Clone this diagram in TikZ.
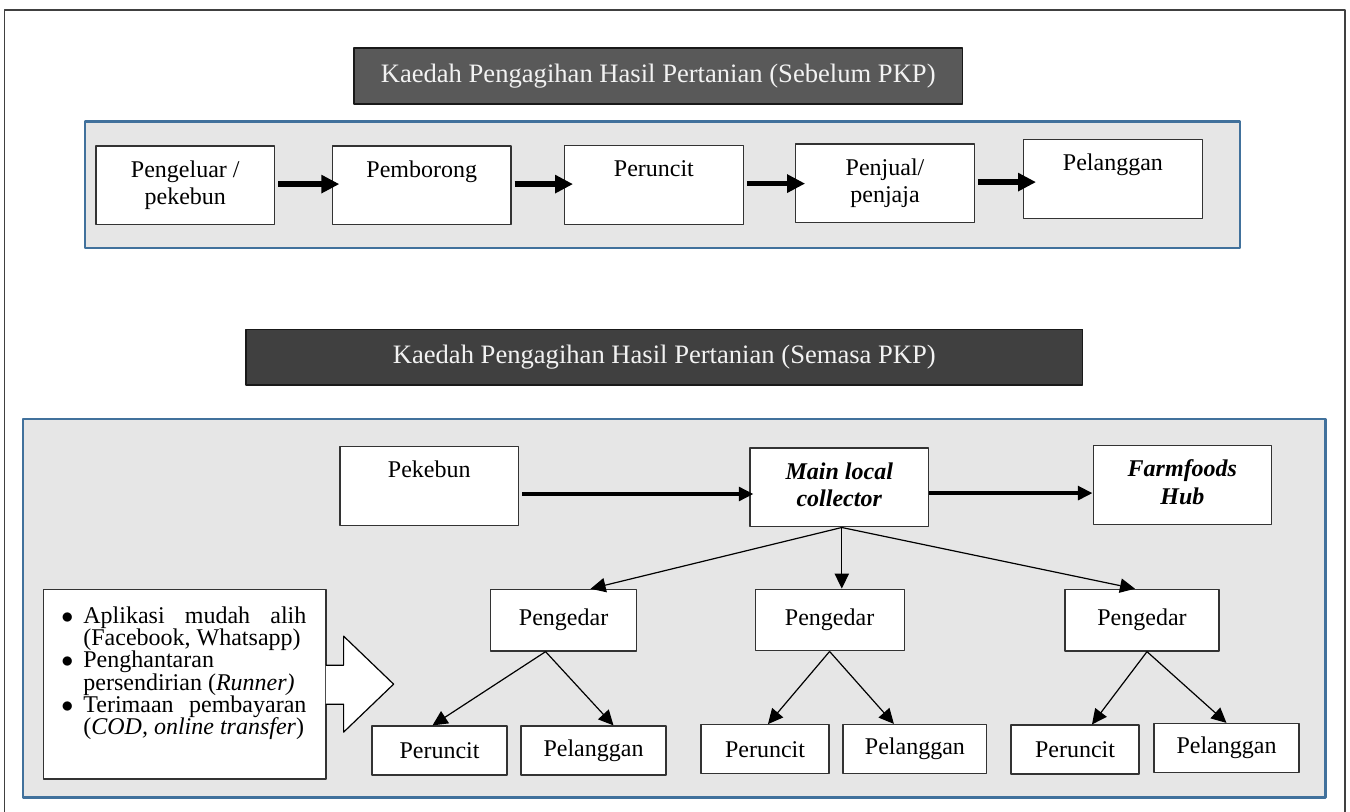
\documentclass[tikz,border=0pt]{standalone}
\usepackage{fontspec}
\setmainfont{Liberation Serif}
\usetikzlibrary{arrows.meta,calc}
\definecolor{bingkai}{RGB}{65,113,156}
\definecolor{latar}{RGB}{230,230,230}
\definecolor{tajukA}{RGB}{89,89,89}
\definecolor{tajukB}{RGB}{64,64,64}
\newcommand{\duabaris}[2]{#1\strut\\#2\strut}
\newcommand{\titik}{\makebox[10pt][l]{\hspace*{-1pt}$\bullet$}}
\begin{document}
\begin{tikzpicture}[line join=round,x=0.5pt,y=-0.5pt]
		\tikzset{every node/.style={font=\fontsize{12}{13.8}\selectfont},
			kotak/.style={draw=black!80,fill=white,line width=0.6pt,align=center,inner sep=0pt,minimum width=89.25pt,minimum height=39.4pt},
			kecil/.style={draw=black!80,fill=white,line width=0.6pt,inner sep=0pt,minimum height=#1},
			tajuk/.style={draw=black!90,line width=0.7pt,text=white!95!black,inner sep=0pt,font=\fontsize{13.3}{15}\selectfont},
			panel/.style={draw=bingkai,fill=latar,line width=1.1pt},
			tebal/.style={line width=2.85pt,-{Triangle[length=9pt,width=8.7pt]}},
			sedang/.style={line width=2.1pt,-{Triangle[length=7.3pt,width=6.8pt]}},
			nipis/.style={line width=0.6pt,-{Triangle[length=7.5pt,width=7.2pt]}}}
		\useasboundingbox (0,0) rectangle (1350,812);
		\clip (0,0) rectangle (1350,812);
		\draw[black!75,line width=0.8pt] (4.5,10) rectangle (1345,830);
		% Sebelum PKP
		\node[tajuk,fill=tajukA,minimum width=304.2pt,minimum height=28pt] (tajuk1) at (658.2,76) {Kaedah Pengagihan Hasil Pertanian (Sebelum PKP)};
		\draw[panel] (85,121.5) rectangle (1240,248);
		\node[kotak] (pengeluar) at (185.25,185.5) {\duabaris{Pengeluar /}{pekebun}};
		\node[kotak] (pemborong) at (421.8,185.5) {\duabaris{Pemborong}{}};
		\node[kotak] (peruncit) at (653.9,185) {\duabaris{Peruncit}{}};
		\node[kotak] (penjual) at (885,183.5) {\duabaris{Penjual/}{penjaja}};
		\node[kotak] (pelanggan) at (1112.9,179) {\duabaris{Pelanggan}{}};
		\foreach \a/\b/\s in {pengeluar/pemborong/-3.7pt,pemborong/peruncit/-4.5pt,peruncit/penjual/-5pt,penjual/pelanggan/-6.5pt}
		\draw[tebal,shorten <=1.5pt,shorten >=\s] ([yshift=0.7pt]\a.east) -- ([yshift=0.7pt]\a.east -| \b.west);
		% Semasa PKP
		\node[tajuk,fill=tajukB,minimum width=418.3pt,minimum height=27.85pt] (tajuk2) at (664.3,357.2) {Kaedah Pengagihan Hasil Pertanian (Semasa PKP)};
		\draw[panel] (23.3,419) rectangle (1325.5,797.5);
		\node[kotak] (pekebun) at (429.25,486) {\duabaris{Pekebun}{}};
		\node[kotak] (pengumpul) at (839.3,487.5) {\duabaris{\textbf{\textit{Main local}}}{\textbf{\textit{collector}}}};
		\node[kotak] (hub) at (1182.4,485.2) {\duabaris{\textbf{\textit{Farmfoods}}}{\textbf{\textit{Hub}}}};
		\draw[sedang,shorten <=1.6pt,shorten >=-2pt] ([yshift=-4pt]pekebun.east) -- ([yshift=-4pt]pekebun.east -| pengumpul.west);
		\draw[sedang] ([yshift=-2.8pt]pengumpul.east) -- ([yshift=-2.8pt]pengumpul.east -| hub.west);
		\node[kecil=30.85pt,minimum width=73pt] (pengedar1) at (563.6,620.2) {Pengedar};
		\node[kecil=30.85pt,minimum width=74.5pt] (pengedar2) at (829.6,620) {Pengedar};
		\node[kecil=30.85pt,minimum width=77pt] (pengedar3) at (1142,620.2) {Pengedar};
		\coordinate (pusat) at ($(pengumpul.south)+(2.5,0)$);
		\draw[nipis] (pusat) -- ($(pengedar1.north)+(27,0)$);
		\draw[nipis] (pusat) -- (pusat |- pengedar2.north);
		\draw[nipis] (pusat) -- ($(pengedar3.north)+(-7,0)$);
		\node[kecil=24.5pt,minimum width=67.5pt] (runcit1) at (439.5,750.5) {Peruncit};
		\node[kecil=24.5pt,minimum width=72.5pt] (langgan1) at (593.5,750.5) {Pelanggan};
		\node[kecil=24.5pt,minimum width=64pt] (runcit2) at (765,749.2) {Peruncit};
		\node[kecil=24.5pt,minimum width=71.85pt] (langgan2) at (914.9,749) {Pelanggan};
		\node[kecil=24.5pt,minimum width=64pt] (runcit3) at (1075,749.5) {Peruncit};
		\node[kecil=24.5pt,minimum width=72.5pt] (langgan3) at (1226.5,748) {Pelanggan};
		\foreach \a/\da/\b/\db in {pengedar1/-18/runcit1/-7,pengedar1/-18/langgan1/20,pengedar2/0/runcit2/3,pengedar2/0/langgan2/-21,pengedar3/5/runcit3/17,pengedar3/5/langgan3/0}
		\draw[nipis] ($(\a.south)+(\da,0)$) -- ($(\b.north)+(\db,0)$);
		% Kotak media dan anak panah
		\node[kecil=94.85pt,minimum width=141.35pt] (media) at (184.65,684.15) {};
		\node[anchor=north west,inner sep=0pt,align=left,font=\fontsize{12}{11.1}\selectfont] (senarai) at (63,606.5)
		{\titik\makebox[111.5pt][s]{Aplikasi mudah alih}\\
		\hspace*{10pt}(Facebook, Whatsapp)\\
		\titik Penghantaran\\
		\hspace*{10pt}persendirian (\textit{Runner)}\\
		\titik\makebox[111.5pt][s]{Terimaan pembayaran}\\
		\hspace*{10pt}(\textit{COD, online transfer})};
		\draw[fill=white,line width=0.6pt] ($(media.east)+(-0.8,-19)$) -- ++(17.8,0) -- ++(0,-29) -- ++(50,48) -- ++(-50,48) -- ++(0,-28) -- ++(-17.8,0);
\end{tikzpicture}
\end{document}
